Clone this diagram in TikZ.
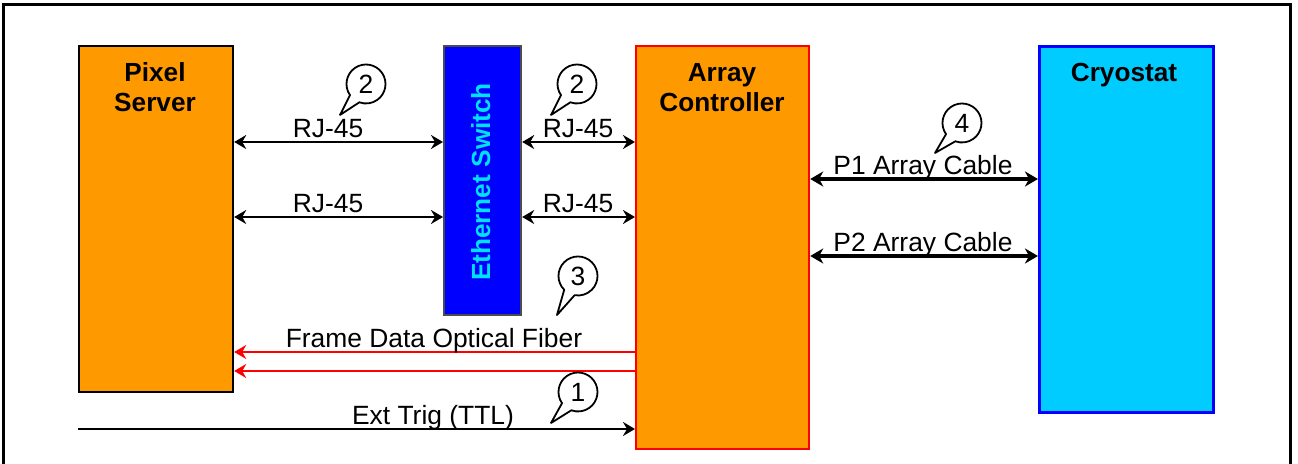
\documentclass[tikz,border=0pt]{standalone}
\usepackage{fontspec}
\setmainfont{Liberation Sans}
\usetikzlibrary{arrows.meta,calc}
\definecolor{boxorange}{HTML}{FF9900}
\definecolor{cryocyan}{HTML}{00CCFF}
\definecolor{switchblue}{HTML}{0000FF}
\definecolor{switchtext}{HTML}{00E0FF}
\definecolor{fiberred}{HTML}{FF0000}
\tikzset{
  unitbox/.style={draw, rectangle, line width=1.1pt, inner sep=0pt},
  title/.style={font=\fontsize{13.1}{15}\selectfont\bfseries, anchor=base},
  lbl/.style={font=\fontsize{13.2}{15}\selectfont, anchor=base},
  tipa/.tip={Stealth[length=6pt,width=7pt,inset=2pt]},
  tipb/.tip={Stealth[length=6.5pt,width=7.5pt,inset=2pt]},
  conn/.style={line width=1.2pt, tipa-tipa},
  conntwo/.style={line width=2.2pt, tipb-tipb},
  oneway/.style={line width=1.2pt, -tipa},
  fiber/.style={line width=1.2pt, draw=fiberred, -{Stealth[length=6pt,width=7pt,inset=2pt,fill=fiberred]}},
  callnum/.style={font=\fontsize{13.2}{15}\selectfont, inner sep=0pt},
  callshape/.style={draw, fill=white, line width=0.9pt, line join=round},
}
\newcommand{\mycallout}[7]{%
  \coordinate (#1tip) at (#4,#5);
  \coordinate (#1c) at (#2,#3);
  \draw[callshape] (#1tip) -- ($(#1c)+(#6+35:19.5)$) arc[start angle=#6+35, end angle=#6+360, radius=19.5] -- cycle;
  \node[callnum] (#1) at (#2,#3) {#7};
}
\begin{document}
\begin{tikzpicture}[x=0.5pt, y=-0.5pt]
\useasboundingbox (0,0) rectangle (1298,464);
% outer frame
\draw[line width=1.5pt] (3,464) -- (3,5) -- (1290,5) -- (1290,464);

% boxes
\node[unitbox, fill=boxorange, draw=black, minimum width=77pt, minimum height=173pt, anchor=north west] (pix) at (78,45) {};
\node[unitbox, fill=switchblue, draw=black!70, minimum width=38.5pt, minimum height=134.5pt, anchor=north west] (sw) at (443,45) {};
\node[unitbox, fill=boxorange, draw=fiberred, minimum width=86.5pt, minimum height=201.5pt, anchor=north west] (ac) at (635,45) {};
\node[unitbox, fill=cryocyan, draw=switchblue, line width=1.4pt, minimum width=87pt, minimum height=183pt, anchor=north west] (cryo) at (1038,45) {};

% titles
\node[title] (pixa) at (155,82) {Pixel};
\node[title] (pixb) at (155,112) {Server};
\node[title] (aca) at (722,82) {Array};
\node[title] (acb) at (722,112) {Controller};
\node[title] (cryot) at (1124,82) {Cryostat};
\node[title, text=switchtext, rotate=90] (swt) at (490,182) {Ethernet Switch};

% connection anchors
\coordinate (pa1) at (pix.east |- 0,142);
\coordinate (sa1) at (sw.west |- 0,142);
\coordinate (sb1) at (sw.east |- 0,142);
\coordinate (aa1) at (ac.west |- 0,142);
\coordinate (pa2) at (pix.east |- 0,217);
\coordinate (sa2) at (sw.west |- 0,217);
\coordinate (sb2) at (sw.east |- 0,217);
\coordinate (aa2) at (ac.west |- 0,217);
\coordinate (ab1) at (ac.east |- 0,179);
\coordinate (ca1) at (cryo.west |- 0,179);
\coordinate (ab2) at (ac.east |- 0,256);
\coordinate (ca2) at (cryo.west |- 0,256);
\coordinate (af1) at (ac.west |- 0,352);
\coordinate (pf1) at (pix.east |- 0,352);
\coordinate (af2) at (ac.west |- 0,371);
\coordinate (pf2) at (pix.east |- 0,371);
\coordinate (trigstart) at (78,429);
\coordinate (at1) at (ac.west |- 0,429);

% connectors
\draw[conn] (pa1) -- (sa1);
\draw[conn] (sb1) -- (aa1);
\draw[conn] (pa2) -- (sa2);
\draw[conn] (sb2) -- (aa2);
\draw[conntwo] (ab1) -- (ca1);
\draw[conntwo] (ab2) -- (ca2);
\draw[fiber] (af1) -- (pf1);
\draw[fiber] (af2) -- (pf2);
\draw[oneway] (trigstart) -- (at1);

% labels
\node[lbl] (l1) at (328,138) {RJ-45};
\node[lbl] (l2) at (578,138) {RJ-45};
\node[lbl] (l3) at (328,213) {RJ-45};
\node[lbl] (l4) at (578,213) {RJ-45};
\node[lbl] (l5) at (923,175) {P1 Array Cable};
\node[lbl] (l6) at (923,252) {P2 Array Cable};
\node[lbl] (l7) at (434,348) {Frame Data Optical Fiber};
\node[lbl] (l8) at (433,425) {Ext Trig (TTL)};

% callouts
\mycallout{ca}{366}{84}{340}{115}{110}{2}
\mycallout{cb}{577}{84}{551}{115}{110}{2}
\mycallout{cc}{578}{276}{557}{315}{100}{3}
\mycallout{cd}{578}{392}{551}{423}{110}{1}
\mycallout{ce}{962}{123}{935}{153}{110}{4}
\end{tikzpicture}
\end{document}
